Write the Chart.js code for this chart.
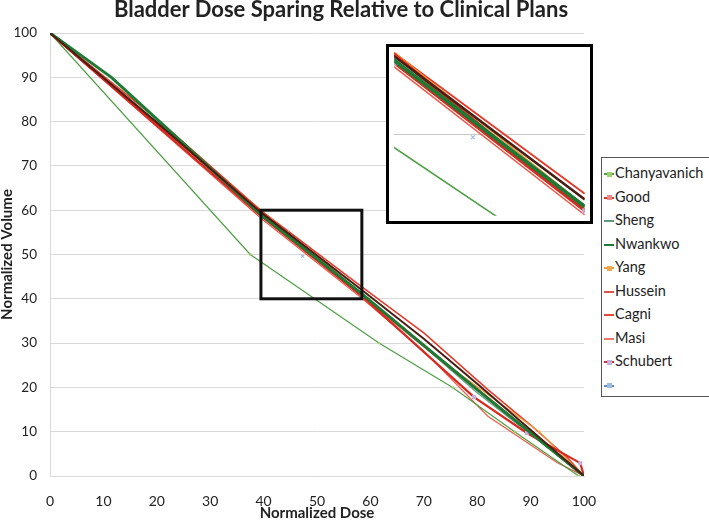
<!DOCTYPE html>
<html>
<head>
<meta charset="utf-8">
<script src="https://cdn.jsdelivr.net/npm/chart.js@4.4.1/dist/chart.umd.min.js"></script>
<style>
  body { margin: 0; background: #fff; font-family: Lato, 'Open Sans', sans-serif; }
  #wrap { position: relative; width: 709px; height: 521px; overflow: hidden; }
  #mainChart { position: absolute; left: 0; top: 0; }
  #title { position: absolute; left: 0; width: 682px; top: -5px; text-align: center;
           font-weight: bold; font-size: 22px; color: #222; }
  #inset { position: absolute; left: 386px; top: 44px; width: 207px; height: 180px;
           box-sizing: border-box; border: 3px solid #000; background: #fff; }
  #insetChart { display: block; }
  #legend { position: absolute; left: 601px; top: 157px; width: 130px; height: 240px;
            box-sizing: border-box; border: 1px solid #555; background: #fff; padding-top: 3px; }
  .item { height: 23.5px; line-height: 23.5px; font-size: 14.5px; color: #222; white-space: nowrap; }
  .dash { display: inline-block; position: relative; width: 10px; height: 2px; margin: 0 1px 0 2px; vertical-align: middle; }
  .dash i { position: absolute; left: 3px; top: -1.5px; width: 5px; height: 5px; }
</style>
</head>
<body>
<div id="wrap">
  <canvas id="mainChart" width="709" height="521"></canvas>
  <div id="title">Bladder Dose Sparing Relative to Clinical Plans</div>
  <div id="inset"><canvas id="insetChart" width="201" height="174"></canvas></div>
  <div id="legend"></div>
</div>
<script>
// series: [normalized dose, normalized volume]
const seriesNames = ['Chanyavanich', 'Good', 'Sheng', 'Nwankwo', 'Yang', 'Hussein', 'Cagni', 'Masi', 'Schubert', ''];

const chanyavanich = [[0, 100], [37.5, 50], [61.6, 30], [75.4, 20], [87, 10], [99, 0]];
const good = [[0, 100], [52.7, 46.3], [100, 0]];
const sheng = [[0, 100], [20, 80], [39.5, 58.6], [58.4, 41.3], [80, 18.8], [100, 0]];
const nwankwo = [[0, 100], [11.5, 90], [39.5, 59.0], [58.4, 41.1], [80, 19.5], [100, 0]];
const yang = [[0, 100], [14.5, 85], [29.5, 70], [44.5, 55], [59.6, 40], [74.5, 25], [91.6, 10], [100, 0]];
const hussein = [[0, 100], [20, 79.8], [39.5, 59.5], [58.4, 42.0], [70, 31], [80, 20.8], [100, 0]];
const cagni = [[0, 100], [20, 80.6], [39.5, 59.9], [58.4, 42.7], [70, 32.3], [82, 19.5], [90, 11.5], [97, 4], [100, 0]];
const masi = [[0, 100], [39.5, 58.2], [58.4, 40.1], [70, 28.2], [82, 13.5], [95, 3], [100, 0]];
const schubert = [[0, 100], [39.5, 58.7], [58.4, 40.6], [79.4, 17.8], [89.3, 9.7], [99.3, 2.9], [100, 0]];
const unnamed = [[0, 100], [47.3, 49.6], [100, 0]];

const seriesData = [chanyavanich, good, sheng, nwankwo, yang, hussein, cagni, masi, schubert, unnamed];

const xTicks = [0, 10, 20, 30, 40, 50, 60, 70, 80, 90, 100];
const yTicks = [0, 10, 20, 30, 40, 50, 60, 70, 80, 90, 100];
const zoomBox = [39.5, 58.4, 40, 60]; // x from, x to, y from, y to

// styles
const styles = [
  { color: '#4e9f45', width: 1.2, point: '#9dcf6a', radius: 2, shape: 'rect', line: true },
  { color: '#e4321f', width: 2.5, point: '#e88a8a', radius: 3.5, shape: 'rect', line: true },
  { color: '#5f9a7c', width: 1.2, point: '#8fc0a8', radius: 0, shape: 'circle', line: true },
  { color: '#1d7a35', width: 3, point: '#1d7a35', radius: 0, shape: 'circle', line: true },
  { color: '#f29a3a', width: 1.2, point: '#f0a850', radius: 2.2, shape: 'rect', line: true },
  { color: '#4a1e14', width: 2, point: '#4a1e14', radius: 0, shape: 'circle', line: true },
  { color: '#e43a2a', width: 1.5, point: '#e43a2a', radius: 0, shape: 'circle', line: true },
  { color: '#ec5a48', width: 1.2, point: '#ec5a48', radius: 0, shape: 'circle', line: true },
  { color: '#d62a20', width: 2.2, point: '#bfb0dc', radius: 3.5, shape: 'rect', line: true },
  { color: '#5b8ac6', width: 1, point: '#9dbbe0', radius: 2.5, shape: 'crossRot', line: false }
];
const legendDash = ['#4e9f45', '#e4321f', '#5f9a7c', '#1d7a35', '#f29a3a', '#e05050', '#e04a3a', '#ec7a6a', '#d62a20', '#5b8ac6'];
// lower number is drawn on top
const drawOrder = [6, 3, 5, 1, 4, 0, 7, 8, 2, 9];

function buildDatasets(scale) {
  return seriesData.map((pts, i) => ({
    label: seriesNames[i],
    data: pts.map(p => ({ x: p[0], y: p[1] })),
    showLine: styles[i].line,
    borderColor: styles[i].color,
    backgroundColor: styles[i].point,
    borderWidth: styles[i].width * scale,
    pointRadius: styles[i].radius * scale * 0.8,
    pointBorderWidth: styles[i].shape === 'crossRot' ? 1.2 : 0,
    pointBorderColor: styles[i].point,
    pointBackgroundColor: styles[i].point,
    pointStyle: styles[i].shape,
    tension: 0,
    order: drawOrder[i]
  }));
}

const zoomBoxPlugin = {
  id: 'zoomBox',
  afterDatasetsDraw(chart) {
    const { ctx, scales } = chart;
    const x1 = scales.x.getPixelForValue(zoomBox[0]);
    const x2 = scales.x.getPixelForValue(zoomBox[1]);
    const y1 = scales.y.getPixelForValue(zoomBox[3]);
    const y2 = scales.y.getPixelForValue(zoomBox[2]);
    ctx.save();
    ctx.strokeStyle = '#111';
    ctx.lineWidth = 3;
    ctx.strokeRect(x1, y1, x2 - x1, y2 - y1);
    ctx.restore();
  }
};

new Chart(document.getElementById('mainChart'), {
  type: 'line',
  data: { datasets: buildDatasets(1) },
  options: {
    responsive: false,
    animation: false,
    layout: { padding: { top: 33, right: 125, left: 0, bottom: 0 } },
    plugins: { legend: { display: false }, tooltip: { enabled: false } },
    scales: {
      x: {
        type: 'linear', min: 0, max: 100,
        afterBuildTicks: s => { s.ticks = xTicks.map(v => ({ value: v })); },
        afterFit: s => { s.height = 45; },
        grid: { display: false },
        border: { color: '#d9d9d9', width: 1 },
        ticks: { padding: 9, color: '#222', font: { family: 'Lato', size: 14 } },
        title: { display: true, text: 'Normalized Dose', color: '#222', padding: 0,
                 font: { family: 'Lato', size: 15, weight: 'bold', lineHeight: 1.0 } }
      },
      y: {
        type: 'linear', min: 0, max: 100,
        afterBuildTicks: s => { s.ticks = yTicks.map(v => ({ value: v })); },
        afterFit: s => { s.width = 50; },
        grid: { color: '#d9d9d9', drawTicks: false },
        border: { color: '#d9d9d9', width: 1 },
        ticks: { padding: 13, color: '#222', font: { family: 'Lato', size: 13.5 } },
        title: { display: true, text: 'Normalized Volume', color: '#222', padding: 0,
                 font: { family: 'Lato', size: 15, weight: 'bold', lineHeight: 1.0 } }
      }
    }
  },
  plugins: [zoomBoxPlugin]
});

// zoomed view of the box
new Chart(document.getElementById('insetChart'), {
  type: 'line',
  data: { datasets: buildDatasets(1.3) },
  options: {
    responsive: false,
    animation: false,
    layout: { padding: 0 },
    plugins: { legend: { display: false }, tooltip: { enabled: false } },
    scales: {
      x: { type: 'linear', min: zoomBox[0], max: zoomBox[1], display: false },
      y: {
        type: 'linear', min: zoomBox[2], max: zoomBox[3],
        afterBuildTicks: s => { s.ticks = [{ value: 50 }]; },
        afterFit: s => { s.width = 0; },
        grid: { color: '#c8c8c8', drawTicks: false },
        border: { display: false },
        ticks: { display: false }
      }
    }
  }
});

// legend
const legend = document.getElementById('legend');
seriesNames.forEach((name, i) => {
  const row = document.createElement('div');
  row.className = 'item';
  const dash = document.createElement('span');
  dash.className = 'dash';
  dash.style.background = legendDash[i];
  if (styles[i].radius > 0) {
    const m = document.createElement('i');
    m.style.background = styles[i].point;
    dash.appendChild(m);
  }
  row.appendChild(dash);
  row.appendChild(document.createTextNode(name));
  legend.appendChild(row);
});
</script>
</body>
</html>
